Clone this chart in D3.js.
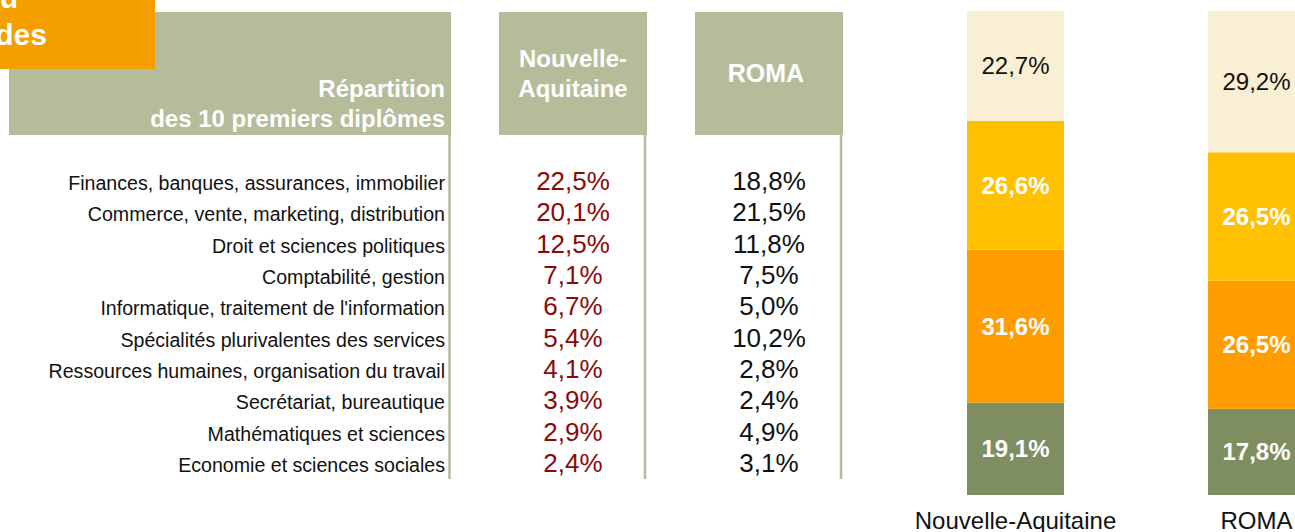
<!DOCTYPE html>
<html>
<head>
<meta charset="utf-8">
<script src="https://cdn.jsdelivr.net/npm/d3@7"></script>
<style>
  body { margin: 0; background: #fff; }
  svg { display: block; font-family: "Liberation Sans", Arial, sans-serif; }
</style>
</head>
<body>
<div id="chart"></div>
<script>
// table : 10 premiers diplomes
var diplomes = [
  'Finances, banques, assurances, immobilier',
  'Commerce, vente, marketing, distribution',
  'Droit et sciences politiques',
  'Comptabilité, gestion',
  "Informatique, traitement de l'information",
  'Spécialités plurivalentes des services',
  'Ressources humaines, organisation du travail',
  'Secrétariat, bureautique',
  'Mathématiques et sciences',
  'Economie et sciences sociales'
];
var territoires = ['Nouvelle-Aquitaine', 'ROMA'];
var part_na   = [22.5, 20.1, 12.5, 7.1, 6.7, 5.4, 4.1, 3.9, 2.9, 2.4];
var part_roma = [18.8, 21.5, 11.8, 7.5, 5.0, 10.2, 2.8, 2.4, 4.9, 3.1];

// barres empilees (du bas vers le haut)
var niveaux   = ['n1', 'n2', 'n3', 'n4'];
var niv_na    = [19.1, 31.6, 26.6, 22.7];
var niv_roma  = [17.8, 26.5, 26.5, 29.2];

var W = 1295, H = 532;
var box_fill = '#b5bc9a';
var seg_colors = ['#7e8e60', '#ff9c00', '#ffc000', '#f9efd4'];

var fr = d3.formatLocale({decimal: ',', thousands: ' ', grouping: [3], currency: ['', ' €']});
var pct = (v) => fr.format('.1f')(v) + '%';

var svg = d3.select('#chart').append('svg')
  .attr('width', W)
  .attr('height', H);

/* ---------- table ---------- */

var col = d3.scaleBand()
  .domain(territoires)
  .range([499, 843])
  .paddingInner(0.245);

var row = d3.scalePoint()
  .domain(diplomes)
  .range([190, 472]);

// header boxes
svg.append('rect')
  .attr('x', 9).attr('y', 12)
  .attr('width', 442).attr('height', 123)
  .attr('fill', box_fill);

svg.selectAll('rect.col-head')
  .data(territoires)
  .enter()
  .append('rect')
  .attr('class', 'col-head')
  .attr('x', (d) => col(d))
  .attr('y', 12)
  .attr('width', col.bandwidth())
  .attr('height', 123)
  .attr('fill', box_fill);

var head_txt = svg.append('text')
  .attr('fill', '#fff')
  .attr('font-weight', 'bold')
  .attr('font-size', 24)
  .attr('text-anchor', 'end');
head_txt.append('tspan').attr('x', 445).attr('y', 97).text('Répartition');
head_txt.append('tspan').attr('x', 445).attr('y', 127).text('des 10 premiers diplômes');

var na_head = svg.append('text')
  .attr('fill', '#fff')
  .attr('font-weight', 'bold')
  .attr('font-size', 24)
  .attr('text-anchor', 'middle');
na_head.append('tspan').attr('x', col(territoires[0]) + col.bandwidth() / 2).attr('y', 67).text('Nouvelle-');
na_head.append('tspan').attr('x', col(territoires[0]) + col.bandwidth() / 2).attr('y', 97).text('Aquitaine');

svg.append('text')
  .attr('fill', '#fff')
  .attr('font-weight', 'bold')
  .attr('font-size', 25)
  .attr('text-anchor', 'middle')
  .attr('x', col(territoires[1]) + col.bandwidth() / 2 - 3)
  .attr('y', 82)
  .text('ROMA');

// orange title box (cut by the frame)
svg.append('rect')
  .attr('x', -10).attr('y', -10)
  .attr('width', 165).attr('height', 79)
  .attr('fill', '#f59e00');

svg.append('text')
  .attr('fill', '#fff').attr('font-weight', 'bold').attr('font-size', 30)
  .attr('text-anchor', 'end')
  .attr('x', 18).attr('y', 8)
  .text('Niveau');
svg.append('text')
  .attr('fill', '#fff').attr('font-weight', 'bold').attr('font-size', 30)
  .attr('text-anchor', 'end')
  .attr('x', 47).attr('y', 45)
  .text('des');

// separators
var sep_x = [449.5].concat(territoires.map((d) => col(d) + col.bandwidth() - 2));
svg.selectAll('line.sep')
  .data(sep_x)
  .enter()
  .append('line')
  .attr('class', 'sep')
  .attr('x1', (d) => d).attr('x2', (d) => d)
  .attr('y1', 135).attr('y2', 479)
  .attr('stroke', box_fill)
  .attr('stroke-width', 2.5);

// rows
svg.selectAll('text.lbl')
  .data(diplomes)
  .enter()
  .append('text')
  .attr('class', 'lbl')
  .attr('x', 445)
  .attr('y', (d) => row(d))
  .attr('text-anchor', 'end')
  .attr('font-size', 19.6)
  .attr('fill', '#111')
  .text((d) => d);

svg.selectAll('text.v-na')
  .data(part_na)
  .enter()
  .append('text')
  .attr('class', 'v-na')
  .attr('x', col(territoires[0]) + col.bandwidth() / 2)
  .attr('y', (d, i) => row(diplomes[i]))
  .attr('text-anchor', 'middle')
  .attr('font-size', 26)
  .attr('fill', '#8a0a0a')
  .text(pct);

svg.selectAll('text.v-roma')
  .data(part_roma)
  .enter()
  .append('text')
  .attr('class', 'v-roma')
  .attr('x', col(territoires[1]) + col.bandwidth() / 2)
  .attr('y', (d, i) => row(diplomes[i]))
  .attr('text-anchor', 'middle')
  .attr('font-size', 26)
  .attr('fill', '#111')
  .text(pct);

/* ---------- stacked bars ---------- */

var table = territoires.map((t, k) => {
  var r = {territoire: t};
  var src = k === 0 ? niv_na : niv_roma;
  niveaux.forEach((n, j) => { r[n] = src[j]; });
  return r;
});

var series = d3.stack().keys(niveaux)(table);

var x = d3.scaleBand()
  .domain(territoires)
  .range([967, 1305])
  .paddingInner(0.5975);

var y = d3.scaleLinear()
  .domain([0, 100])
  .range([495, 11]);

var gs = svg.selectAll('g.serie')
  .data(series)
  .enter()
  .append('g')
  .attr('class', 'serie');

gs.selectAll('rect')
  .data((s) => s)
  .enter()
  .append('rect')
  .attr('x', (d) => x(d.data.territoire))
  .attr('y', (d) => y(d[1]))
  .attr('width', x.bandwidth())
  .attr('height', (d) => y(d[0]) - y(d[1]))
  .attr('fill', function() { return seg_colors[d3.select(this.parentNode).datum().index]; });

gs.selectAll('text')
  .data((s) => s.map((d) => ({d: d, idx: s.index})))
  .enter()
  .append('text')
  .attr('x', (e) => x(e.d.data.territoire) + x.bandwidth() / 2)
  .attr('y', (e) => (y(e.d[0]) + y(e.d[1])) / 2 + 8.5)
  .attr('text-anchor', 'middle')
  .attr('font-size', 24)
  .attr('font-weight', (e) => e.idx === 3 ? 'normal' : 'bold')
  .attr('fill', (e) => e.idx === 3 ? '#111' : '#fff')
  .text((e) => pct(e.d[1] - e.d[0]));

svg.selectAll('text.cat')
  .data(territoires)
  .enter()
  .append('text')
  .attr('class', 'cat')
  .attr('x', (d) => x(d) + x.bandwidth() / 2)
  .attr('y', 529)
  .attr('text-anchor', 'middle')
  .attr('font-size', 24)
  .attr('fill', '#111')
  .text((d) => d);
</script>
</body>
</html>
